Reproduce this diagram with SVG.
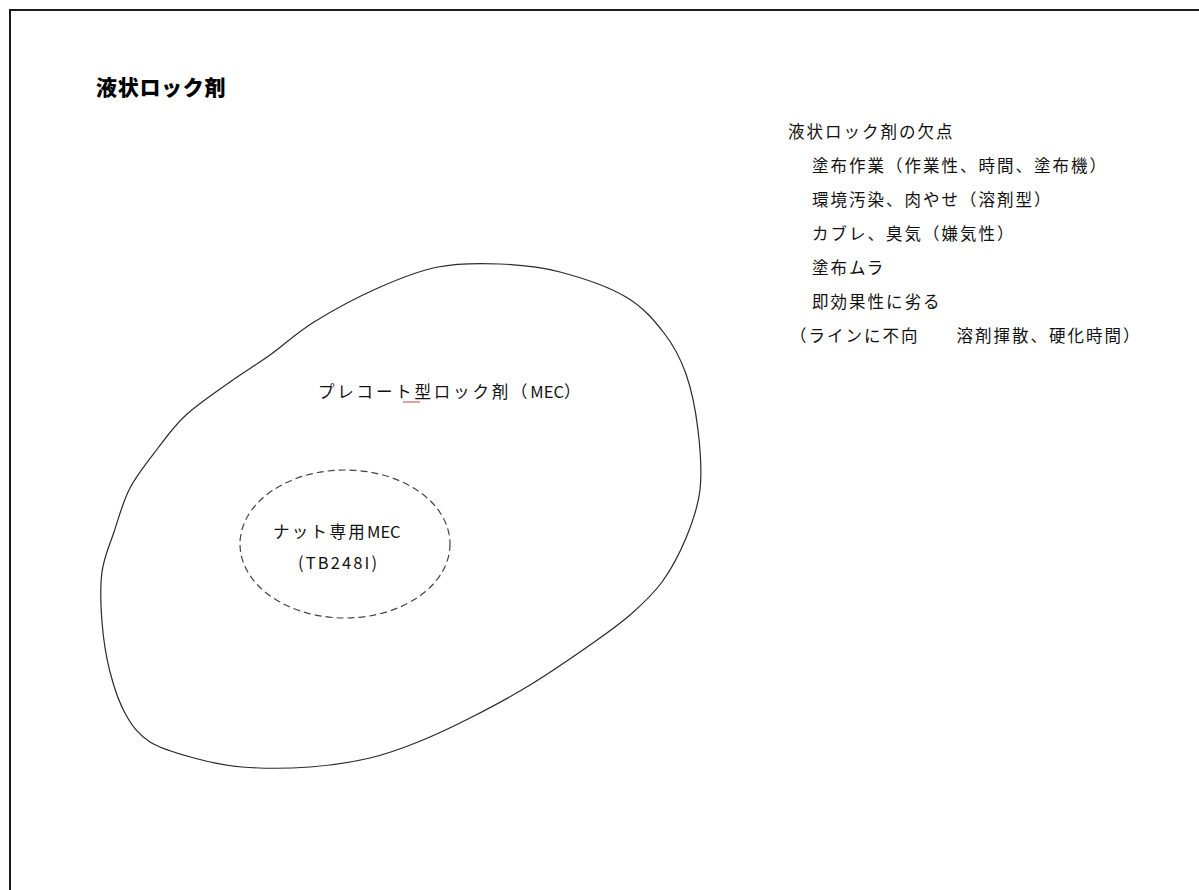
<svg xmlns="http://www.w3.org/2000/svg" width="1199" height="890" viewBox="0 0 1199 890">
<style>
.frame{fill:none;stroke:#1a1a1a;stroke-width:2}
.blob{fill:none;stroke:#2a2a2a;stroke-width:1.2}
.dash{fill:none;stroke:#444;stroke-width:1.2;stroke-dasharray:7 4}
.title{font-family:"Noto Sans CJK JP","Noto Sans",sans-serif;font-weight:900;font-size:21px;letter-spacing:0.7px;fill:#000}
.list{font-family:"Noto Sans CJK JP","Noto Sans",sans-serif;font-size:16.5px;letter-spacing:2px;fill:#111}
.lbl{font-family:"Noto Sans CJK JP","Noto Sans",sans-serif;font-size:16.5px;fill:#111}
</style>
<rect x="0" y="0" width="1199" height="890" fill="#fff"/>
<path class="frame" d="M10,890 V10 H1199"/>
<g id="title"><text class="title" x="96" y="95">液状ロック剤</text></g>
<g id="drawbacks">
<text class="list" x="788" y="138">液状ロック剤の欠点</text>
<text class="list" x="812" y="172">塗布作業（作業性、時間、塗布機）</text>
<text class="list" x="812" y="206">環境汚染、肉やせ（溶剤型）</text>
<text class="list" x="812" y="240">カブレ、臭気（嫌気性）</text>
<text class="list" x="812" y="274">塗布ムラ</text>
<text class="list" x="812" y="308">即効果性に劣る</text>
<text class="list" x="790" y="342">（ラインに不向　　溶剤揮散、硬化時間）</text>
</g>
<g id="precoat">
<path class="blob" d="M438,267 C458.3,263 479.7,263.2 500,264 C520.3,264.8 539,266.5 560,272 C581,277.5 608.7,286.8 626,297 C643.3,307.2 654,320.2 664,333 C674,345.8 680.3,357.8 686,374 C691.7,390.2 695.7,410.7 698,430 C700.3,449.3 702,472 700,490 C698,508 692.3,522.7 686,538 C679.7,553.3 671.3,569.2 662,582 C652.7,594.8 642,604.5 630,615 C618,625.5 606.7,633.3 590,645 C573.3,656.7 550,672.8 530,685 C510,697.2 488.7,708.5 470,718 C451.3,727.5 434.7,735.3 418,742 C401.3,748.7 388,753.8 370,758 C352,762.2 331.3,765.5 310,767 C288.7,768.5 261.3,768.5 242,767 C222.7,765.5 209.3,762.2 194,758 C178.7,753.8 161.3,749.2 150,742 C138.7,734.8 132.7,726.7 126,715 C119.3,703.3 114,687.5 110,672 C106,656.5 103.3,638.7 102,622 C100.7,605.3 100,587 102,572 C104,557 109.3,546 114,532 C118.7,518 122.7,502 130,488 C137.3,474 148.7,460.2 158,448 C167.3,435.8 174,426 186,415 C198,404 216,392 230,382 C244,372 256,365 270,355 C284,345 296,333.2 314,322 C332,310.8 357.3,297.2 378,288 C398.7,278.8 417.7,271 438,267 Z"/>
<text class="lbl" x="318" y="398"><tspan letter-spacing="2.8">プレコート型ロック剤（</tspan><tspan letter-spacing="0">MEC）</tspan></text>
<line x1="403" y1="402" x2="420" y2="402" stroke="#c44" stroke-width="1"/>
</g>
<g id="nut-mec">
<ellipse class="dash" cx="345" cy="544" rx="105" ry="74"/>
<text class="lbl" x="273" y="538"><tspan letter-spacing="2.3">ナット専用</tspan><tspan letter-spacing="0">MEC</tspan></text>
<text class="lbl" x="298" y="569" textLength="79" lengthAdjust="spacing">(TB248I)</text>
</g>
</svg>
